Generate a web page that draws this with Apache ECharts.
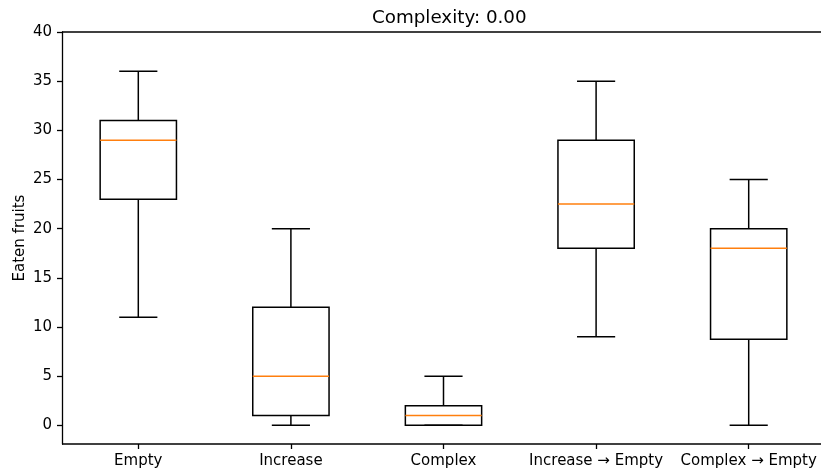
<!DOCTYPE html>
<html>
<head>
<meta charset="utf-8">
<script src="https://cdn.jsdelivr.net/npm/echarts@6/dist/echarts.min.js"></script>
<style>
  html, body { margin: 0; padding: 0; background: #fff; overflow: hidden; }
  #chart { width: 821px; height: 474px; }
</style>
</head>
<body>
<div id="chart"></div>
<script>
// Conditions on the x axis
const categories = ['Empty', 'Increase', 'Complex', 'Increase \u2192 Empty', 'Complex \u2192 Empty'];
// Five-number summaries per condition
const whiskerLow  = [11, 0, 0, 9, 0];
const quartile1   = [23, 1, 0, 18, 8.75];
const medians     = [29, 5, 1, 22.5, 18];
const quartile3   = [31, 12, 2, 29, 20];
const whiskerHigh = [36, 20, 5, 35, 25];
// Y tick labels
const yTicks = [0, 5, 10, 15, 20, 25, 30, 35, 40];

const boxData = categories.map((c, i) => [i, whiskerLow[i], quartile1[i], medians[i], quartile3[i], whiskerHigh[i]]);

const font = 'DejaVu Sans';
const chart = echarts.init(document.getElementById('chart'), null, { renderer: 'canvas' });

// Draws one box: whiskers with half-width caps, the IQR box and the median line
function renderBox(params, api) {
  const idx = api.value(0);
  const pLow = api.coord([idx, api.value(1)]);
  const pQ1 = api.coord([idx, api.value(2)]);
  const pMed = api.coord([idx, api.value(3)]);
  const pQ3 = api.coord([idx, api.value(4)]);
  const pHigh = api.coord([idx, api.value(5)]);
  const band = api.size([1, 0])[0];
  const bw = band * 0.5;
  const cw = bw * 0.5;
  const cx = pMed[0];
  const lineStyle = { stroke: '#000', lineWidth: 1.5, fill: null };
  const line = (x1, y1, x2, y2, style) => ({ type: 'line', shape: { x1, y1, x2, y2 }, style: style || lineStyle });
  return {
    type: 'group',
    children: [
      line(cx, pQ1[1], cx, pLow[1]),
      line(cx - cw / 2, pLow[1], cx + cw / 2, pLow[1]),
      line(cx, pQ3[1], cx, pHigh[1]),
      line(cx - cw / 2, pHigh[1], cx + cw / 2, pHigh[1]),
      { type: 'rect', shape: { x: cx - bw / 2, y: pQ3[1], width: bw, height: pQ1[1] - pQ3[1] }, style: lineStyle },
      line(cx - bw / 2, pMed[1], cx + bw / 2, pMed[1], { stroke: '#ff7f0e', lineWidth: 1.5 })
    ]
  };
}

const axisColor = { color: '#000', width: 1.3 };
const spine = { stroke: '#000', lineWidth: 1.3 };

chart.setOption({
  animation: false,
  backgroundColor: '#fff',
  title: {
    text: 'Complexity: 0.00',
    left: 367, top: 4,
    textStyle: { fontFamily: font, fontSize: 18.3, fontWeight: 'normal', color: '#000' }
  },
  grid: {
    left: 62, top: 32, width: 763, height: 412,
    outerBoundsMode: 'none',
    containLabel: false,
    show: false
  },
  xAxis: [{
    type: 'category',
    data: categories,
    boundaryGap: true,
    axisLine: { show: false, onZero: false },
    axisTick: { show: true, alignWithLabel: true, length: 5, lineStyle: axisColor },
    axisLabel: { fontFamily: font, fontSize: 15, color: '#000', margin: 10, interval: 0 },
    splitLine: { show: false }
  }],
  yAxis: {
    type: 'value',
    min: -1.9, max: 40,
    name: 'Eaten fruits',
    nameLocation: 'middle',
    nameGap: 34,
    nameMoveOverlap: false,
    nameTextStyle: { fontFamily: font, fontSize: 15, color: '#000' },
    axisLine: { show: true, onZero: false, lineStyle: axisColor },
    axisTick: { show: true, length: 5, customValues: yTicks, lineStyle: axisColor },
    axisLabel: { fontFamily: font, fontSize: 15, color: '#000', margin: 10, customValues: yTicks },
    splitLine: { show: false }
  },
  graphic: [{
    // top spine of the plot frame
    type: 'line',
    shape: { x1: 62, y1: 32, x2: 821, y2: 32 },
    style: spine
  }, {
    // bottom spine of the plot frame
    type: 'line',
    shape: { x1: 62, y1: 444, x2: 821, y2: 444 },
    style: spine
  }],
  series: [{
    type: 'custom',
    renderItem: renderBox,
    encode: { x: 0, y: [1, 2, 3, 4, 5] },
    data: boxData,
    clip: false
  }]
});
</script>
</body>
</html>
